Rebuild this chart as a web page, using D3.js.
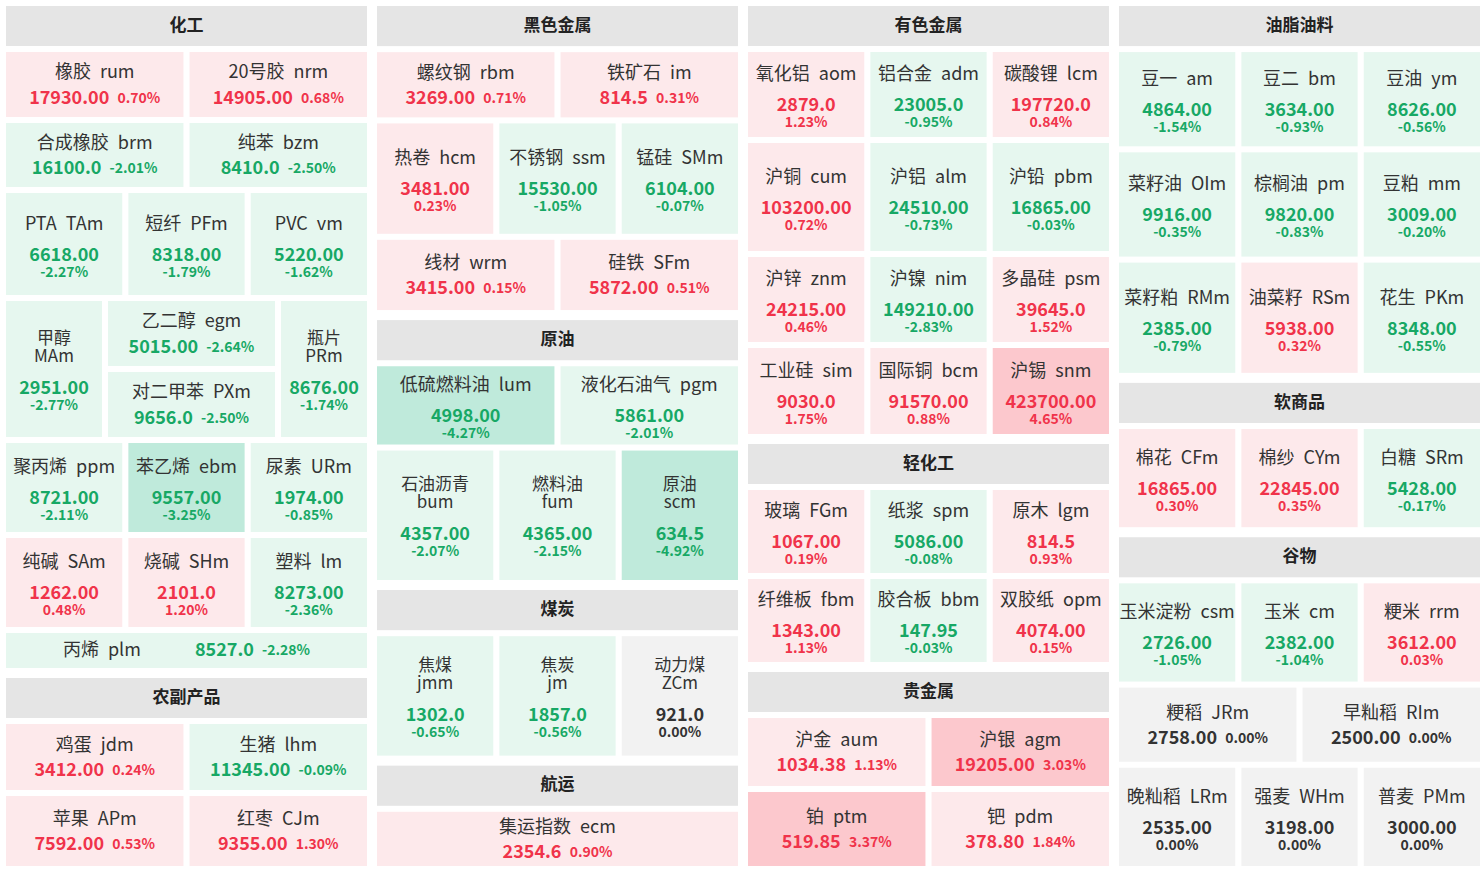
<!DOCTYPE html>
<html><head><meta charset="utf-8">
<script src="https://cdn.jsdelivr.net/npm/d3@7"></script>
<style>body{margin:0;background:#fff}text{font-family:"Noto Sans CJK SC","Noto Sans",sans-serif;white-space:pre}</style>
</head><body><svg id="chart" width="1484" height="873"></svg>
<script>
const codes = ["rum","nrm","brm","bzm","TAm","PFm","vm","MAm","egm","PXm","PRm","ppm","ebm","URm","SAm","SHm","lm","plm","jdm","lhm","APm","CJm",
  "rbm","im","hcm","ssm","SMm","wrm","SFm","lum","pgm","bum","fum","scm","jmm","jm","ZCm","ecm",
  "aom","adm","lcm","cum","alm","pbm","znm","nim","psm","sim","bcm","snm","FGm","spm","lgm","fbm","bbm","opm","aum","agm","ptm","pdm",
  "am","bm","ym","OIm","pm","mm","RMm","RSm","PKm","CFm","CYm","SRm","csm","cm","rrm","JRm","RIm","LRm","WHm","PMm"];
const names = ["橡胶","20号胶","合成橡胶","纯苯","PTA","短纤","PVC","甲醇","乙二醇","对二甲苯","瓶片","聚丙烯","苯乙烯","尿素","纯碱","烧碱","塑料","丙烯","鸡蛋","生猪","苹果","红枣",
  "螺纹钢","铁矿石","热卷","不锈钢","锰硅","线材","硅铁","低硫燃料油","液化石油气","石油沥青","燃料油","原油","焦煤","焦炭","动力煤","集运指数",
  "氧化铝","铝合金","碳酸锂","沪铜","沪铝","沪铅","沪锌","沪镍","多晶硅","工业硅","国际铜","沪锡","玻璃","纸浆","原木","纤维板","胶合板","双胶纸","沪金","沪银","铂","钯",
  "豆一","豆二","豆油","菜籽油","棕榈油","豆粕","菜籽粕","油菜籽","花生","棉花","棉纱","白糖","玉米淀粉","玉米","粳米","粳稻","早籼稻","晚籼稻","强麦","普麦"];
const prices = ["17930.00","14905.00","16100.0","8410.0","6618.00","8318.00","5220.00","2951.00","5015.00","9656.0","8676.00","8721.00","9557.00","1974.00","1262.00","2101.0","8273.00","8527.0","3412.00","11345.00","7592.00","9355.00",
  "3269.00","814.5","3481.00","15530.00","6104.00","3415.00","5872.00","4998.00","5861.00","4357.00","4365.00","634.5","1302.0","1857.0","921.0","2354.6",
  "2879.0","23005.0","197720.0","103200.00","24510.00","16865.00","24215.00","149210.00","39645.0","9030.0","91570.00","423700.00","1067.00","5086.00","814.5","1343.00","147.95","4074.00","1034.38","19205.00","519.85","378.80",
  "4864.00","3634.00","8626.00","9916.00","9820.00","3009.00","2385.00","5938.00","8348.00","16865.00","22845.00","5428.00","2726.00","2382.00","3612.00","2758.00","2500.00","2535.00","3198.00","3000.00"];
const pcts = [0.70,0.68,-2.01,-2.50,-2.27,-1.79,-1.62,-2.77,-2.64,-2.50,-1.74,-2.11,-3.25,-0.85,0.48,1.20,-2.36,-2.28,0.24,-0.09,0.53,1.30,
  0.71,0.31,0.23,-1.05,-0.07,0.15,0.51,-4.27,-2.01,-2.07,-2.15,-4.92,-0.65,-0.56,0.00,0.90,
  1.23,-0.95,0.84,0.72,-0.73,-0.03,0.46,-2.83,1.52,1.75,0.88,4.65,0.19,-0.08,0.93,1.13,-0.03,0.15,1.13,3.03,3.37,1.84,
  -1.54,-0.93,-0.56,-0.35,-0.83,-0.20,-0.79,0.32,-0.55,0.30,0.35,-0.17,-1.05,-1.04,0.03,0.00,0.00,0.00,0.00,0.00];
const wrapped = ["MAm","PRm","bum","fum","scm","jmm","jm","ZCm"];

// column layout: headers and rows (row weights are relative heights)
const columns = [
  [["化工"],[65,"rum","nrm"],[64,"brm","bzm"],[102,"TAm","PFm","vm"],[136,"#complex"],[89,"ppm","ebm","URm"],[89,"SAm","SHm","lm"],[35,"plm"],
   ["农副产品"],[66,"jdm","lhm"],[70,"APm","CJm"]],
  [["黑色金属"],[65,"rbm","im"],[110,"hcm","ssm","SMm"],[70,"wrm","SFm"],["原油"],[78,"lum","pgm"],[129,"bum","fum","scm"],
   ["煤炭"],[119,"jmm","jm","ZCm"],["航运"],[54,"ecm"]],
  [["有色金属"],[85,"aom","adm","lcm"],[108,"cum","alm","pbm"],[85,"znm","nim","psm"],[86,"sim","bcm","snm"],["轻化工"],[83,"FGm","spm","lgm"],[83,"fbm","bbm","opm"],
   ["贵金属"],[68,"aum","agm"],[74,"ptm","pdm"]],
  [["油脂油料"],[94,"am","bm","ym"],[104,"OIm","pm","mm"],[110,"RMm","RSm","PKm"],["软商品"],[98,"CFm","CYm","SRm"],["谷物"],[98,"csm","cm","rrm"],[74,"JRm","RIm"],[98,"LRm","WHm","PMm"]]
];
const HEADER = 40, GAP = 6, HGAP = 10;

const svg = d3.select("#chart");
const colX = d3.scaleBand().domain(d3.range(4)).range([6,1480]).paddingInner(0.027);
const byCode = new Map(codes.map((c,i)=>[c,{code:c,name:names[i],price:prices[i],pct:pcts[i]}]));

function bg(p){
  if (p === 0) return "#f2f2f2";
  const a = Math.abs(p);
  if (p > 0) return a >= 3 ? "#fcc8cd" : "#fde9eb";
  return a >= 3 ? "#bfeadb" : "#e6f7ef";
}
function fg(p){ return p > 0 ? "#f0334a" : p < 0 ? "#17a865" : "#333"; }
const pctTxt = p => p.toFixed(2) + "%";

function drawCell(d, x, y, w, h, mode){
  const g = svg.append("g");
  g.append("rect").attr("x",x).attr("y",y).attr("width",w).attr("height",h).attr("fill",bg(d.pct));
  const cx = x + w/2, cy = y + h/2, col = fg(d.pct);
  const label = d.name + "\u2002" + d.code;
  const t = (yy, size, weight, color) => g.append("text").attr("x",cx).attr("y",yy)
     .attr("text-anchor","middle").attr("dominant-baseline","middle")
     .attr("font-size",size).attr("font-weight",weight).attr("fill",color);
  if (mode === "line") {
    const tx = t(cy, 18, 400, "#333");
    tx.append("tspan").text(label + "\u2003\u2003\u2003");
    tx.append("tspan").attr("fill",col).attr("font-weight",700).text(d.price + "  ");
    tx.append("tspan").attr("fill",col).attr("font-weight",700).attr("font-size",14).text(pctTxt(d.pct));
  } else if (mode === "inline") {
    t(cy - 11, 18, 400, "#333").text(label);
    const tx = t(cy + 14, 18, 700, col);
    tx.append("tspan").text(d.price + "  ");
    tx.append("tspan").attr("font-size",14).text(pctTxt(d.pct));
  } else if (wrapped.includes(d.code)) {
    t(cy - 30, 17, 400, "#333").text(d.name);
    t(cy - 12, 17, 400, "#333").text(d.code);
    t(cy + 20, 18, 700, col).text(d.price);
    t(cy + 37, 14, 700, col).text(pctTxt(d.pct));
  } else {
    t(cy - 19, 18, 400, "#333").text(label);
    t(cy + 12, 18, 700, col).text(d.price);
    t(cy + 29, 14, 700, col).text(pctTxt(d.pct));
  }
}

function drawRow(cells, x, y, w, h){
  if (cells.length === 1) {
    drawCell(byCode.get(cells[0]), x, y, w, h, h < 45 ? "line" : "inline");
    return;
  }
  const xs = d3.scaleBand().domain(d3.range(cells.length)).range([x, x + w]).paddingInner(GAP / (w / cells.length));
  cells.forEach((c,i) => {
    const mode = cells.length === 2 && h < 76 ? "inline" : "stack";
    drawCell(byCode.get(c), xs(i), y, xs.bandwidth(), h, mode);
  });
}

function drawComplex(x, y, w, h){
  const ws = [96,167,86], tot = d3.sum(ws) + 2*GAP;
  const sx = d3.scaleLinear().domain([0, tot]).range([x, x + w]);
  const x1 = sx(ws[0] + GAP), x2 = sx(ws[0] + ws[1] + 2*GAP);
  drawCell(byCode.get("MAm"), x, y, sx(ws[0]) - x, h, "stack");
  const hh = (h - GAP) / 2;
  drawCell(byCode.get("egm"), x1, y, sx(ws[0]+GAP+ws[1]) - x1, hh, "inline");
  drawCell(byCode.get("PXm"), x1, y + hh + GAP, sx(ws[0]+GAP+ws[1]) - x1, hh, "inline");
  drawCell(byCode.get("PRm"), x2, y, x + w - x2, h, "stack");
}

columns.forEach((blocks, ci) => {
  const x = colX(ci), w = colX.bandwidth();
  let total = 0;
  blocks.forEach((b,i) => {
    total += b.length === 1 ? HEADER : b[0];
    if (i < blocks.length - 1) total += (blocks[i+1].length === 1) ? HGAP : GAP;
  });
  const sy = d3.scaleLinear().domain([0,total]).range([6,866]);
  let acc = 0;
  blocks.forEach((b,i) => {
    const hgt = b.length === 1 ? HEADER : b[0];
    const y0 = sy(acc), y1 = sy(acc + hgt);
    if (b.length === 1) {
      svg.append("rect").attr("x",x).attr("y",y0).attr("width",w).attr("height",y1-y0).attr("fill","#e5e5e5");
      svg.append("text").attr("x",x+w/2).attr("y",(y0+y1)/2).attr("text-anchor","middle").attr("dominant-baseline","middle")
        .attr("font-size",17).attr("font-weight",700).attr("fill","#222").text(b[0]);
    } else if (b[1] === "#complex") {
      drawComplex(x, y0, w, y1 - y0);
    } else {
      drawRow(b.slice(1), x, y0, w, y1 - y0);
    }
    acc += hgt;
    if (i < blocks.length - 1) acc += (blocks[i+1].length === 1) ? HGAP : GAP;
  });
});
</script></body></html>
